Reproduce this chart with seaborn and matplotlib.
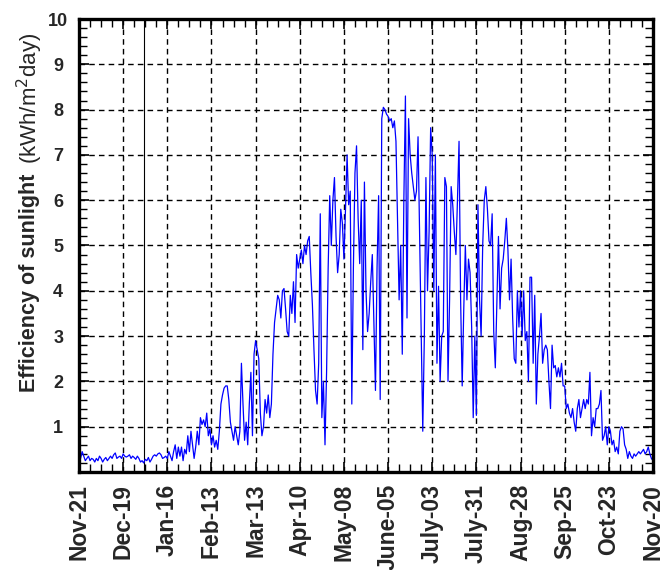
import numpy as np
import pandas as pd
import matplotlib
matplotlib.use("Agg")
import matplotlib.pyplot as plt
import seaborn as sns
from matplotlib.ticker import MultipleLocator

# ---- data: daily efficiency of sunlight (kWh/m2 day), one list per 28-day period ----
seg_nov21 = [0.25, 0.3, 0.45, 0.35, 0.25, 0.3, 0.35, 0.25, 0.3, 0.28, 0.22, 0.3, 0.25, 0.35,
             0.3, 0.22, 0.28, 0.32, 0.25, 0.3, 0.35, 0.3, 0.38, 0.42, 0.3, 0.33, 0.35, 0.3]
seg_dec19 = [0.4, 0.35, 0.33, 0.35, 0.38, 0.3, 0.35, 0.32, 0.28, 0.35, 0.3, 0.22, 0.25, 0.2,
             0.28, 0.25, 0.32, 0.22, 0.28, 0.35, 0.38, 0.35, 0.4, 0.42, 0.38, 0.3, 0.32, 0.35]
seg_jan16 = [0.3, 0.45, 0.35, 0.25, 0.45, 0.6, 0.3, 0.55, 0.35, 0.55, 0.25, 0.5, 0.4, 0.8,
             0.45, 0.9, 0.6, 0.3, 0.55, 0.9, 0.6, 1.2, 1.05, 1.15, 1.0, 1.3, 0.8, 0.95]
seg_feb13 = [0.6, 0.8, 0.55, 0.7, 0.5, 0.9, 1.5, 1.7, 1.85, 1.9, 1.9, 1.6, 1.1, 0.9,
             0.7, 1.0, 0.8, 0.6, 0.9, 2.4, 1.5, 0.7, 1.1, 0.6, 1.5, 2.2, 0.8, 2.6]
seg_mar13 = [2.9, 2.7, 2.5, 1.3, 0.8, 1.0, 1.6, 1.3, 1.7, 1.2, 1.5, 2.6, 3.3, 3.6,
             3.9, 3.8, 3.4, 4.0, 4.05, 3.6, 3.1, 3.0, 3.9, 3.5, 4.2, 3.3, 4.8, 4.5]
seg_apr10 = [4.7, 4.9, 4.6, 5.0, 4.8, 5.1, 5.2, 4.4, 3.7, 2.7, 1.8, 1.5, 2.4, 5.7,
             1.2, 2.0, 0.6, 2.2, 4.5, 6.1, 5.0, 6.0, 6.5, 5.2, 4.4, 4.8, 5.8, 5.5]
seg_may08 = [4.7, 5.8, 7.0, 5.9, 6.2, 1.5, 4.5, 6.6, 7.2, 5.6, 4.6, 6.0, 2.7, 6.4,
             4.0, 3.1, 3.5, 4.2, 4.8, 3.3, 1.8, 4.5, 6.1, 1.6, 7.8, 8.05, 8.0, 7.9]
seg_jun05 = [7.85, 7.75, 7.8, 7.6, 7.75, 7.3, 5.5, 3.8, 5.0, 2.6, 6.0, 8.3, 3.4, 7.8,
             7.0, 6.6, 6.3, 6.0, 6.2, 7.4, 5.2, 2.9, 0.9, 3.0, 6.5, 4.0, 5.3, 7.6]
seg_jul03 = [7.0, 4.0, 7.0, 2.4, 4.1, 2.0, 3.0, 3.1, 6.5, 6.3, 2.0, 3.8, 6.3, 5.9,
             5.3, 4.8, 6.0, 7.3, 3.8, 1.9, 3.6, 5.0, 3.8, 4.7, 4.4, 3.2, 1.2, 3.0]
seg_jul31 = [1.25, 5.9, 3.8, 3.0, 5.0, 6.0, 6.3, 5.8, 5.1, 5.0, 5.7, 3.1, 2.3, 3.8,
             5.2, 3.6, 4.5, 4.7, 5.1, 5.6, 4.9, 3.8, 4.7, 3.4, 2.5, 2.4, 4.0, 3.2]
seg_aug28 = [4.0, 3.0, 4.0, 2.9, 3.1, 2.0, 4.3, 4.3, 2.4, 3.9, 1.5, 2.6, 3.0, 3.5,
             2.4, 2.7, 2.8, 2.7, 2.0, 1.4, 2.8, 2.3, 2.35, 2.1, 2.3, 2.1, 2.4, 1.9]
seg_sep25 = [1.9, 1.4, 1.5, 1.3, 1.2, 1.4, 1.1, 0.9, 1.4, 1.6, 1.2, 1.4, 1.6, 1.4,
             1.6, 1.5, 2.2, 0.8, 1.2, 1.0, 1.4, 1.4, 1.5, 1.8, 0.7, 0.8, 1.0, 0.6]
seg_oct23 = [1.0, 0.9, 0.6, 0.7, 0.45, 0.55, 0.4, 0.9, 1.0, 0.95, 0.6, 0.5, 0.3, 0.45,
             0.35, 0.3, 0.4, 0.35, 0.4, 0.45, 0.4, 0.45, 0.5, 0.4, 0.45, 0.55, 0.4, 0.3, 0.25]

tick_labels = ["Nov-21", "Dec-19", "Jan-16", "Feb-13", "Mar-13", "Apr-10", "May-08",
               "June-05", "July-03", "July-31", "Aug-28", "Sep-25", "Oct-23", "Nov-20"]
jan1_day = 41  # days after Nov-21

values = (seg_nov21 + seg_dec19 + seg_jan16 + seg_feb13 + seg_mar13 + seg_apr10 + seg_may08
          + seg_jun05 + seg_jul03 + seg_jul31 + seg_aug28 + seg_sep25 + seg_oct23)
df = pd.DataFrame({"day": np.arange(len(values)), "eff": values})

sns.set_style("ticks")
plt.rcParams["font.family"] = ["Liberation Sans", "DejaVu Sans"]

fig = plt.figure(figsize=(6.69, 5.70), dpi=100)
ax = fig.add_axes([79 / 669, 1 - 472 / 570, (653 - 79) / 669, (472 - 19) / 570])

sns.lineplot(data=df, x="day", y="eff", ax=ax, color="#0000ff", linewidth=0.9)

ax.set_xlim(0, 364)
ax.set_ylim(0, 10)

ax.set_xticks(np.arange(0, 365, 28))
ax.set_xticklabels(tick_labels, rotation=90, fontsize=16.5, fontweight="bold")
ax.set_yticks(np.arange(0, 11, 1))
ylabs = ["" if v == 0 else str(v) for v in range(11)]
ax.set_yticklabels(ylabs, fontsize=13, fontweight="bold")
for lab in ax.get_yticklabels():
    lab.set_horizontalalignment("center")
ax.xaxis.set_minor_locator(MultipleLocator(7))
ax.yaxis.set_minor_locator(MultipleLocator(0.2))
ax.tick_params(which="both", direction="in", top=True, right=True, color="black")
ax.tick_params(which="major", length=7, width=1.2)
ax.tick_params(which="minor", length=6, width=1.0)
ax.tick_params(axis="x", which="major", pad=8.5)
ax.tick_params(axis="y", which="major", pad=15)

for x in np.arange(28, 364, 28):
    ax.axvline(x, color="black", linestyle=(0, (4, 3)), linewidth=1.0, zorder=1)
for y in range(1, 10):
    ax.axhline(y, color="black", linestyle=(0, (4, 3)), linewidth=1.0, zorder=1)
ax.axvline(jan1_day, color="black", linestyle="-", linewidth=0.8, zorder=1)

for s in ax.spines.values():
    s.set_linewidth(2.4)
    s.set_color("black")

ax.set_xlabel("")
ax.set_ylabel("")

fig.text(30 / 669, 1 - 392 / 570, "Efficiency of sunlight", rotation=90,
         ha="center", va="bottom", fontsize=15.5, fontweight="bold")
fig.text(30 / 669, 1 - 164 / 570, "(kWh/m$^2$day)", rotation=90,
         ha="center", va="bottom", fontsize=16)

fig.savefig("out.png", dpi=100)
